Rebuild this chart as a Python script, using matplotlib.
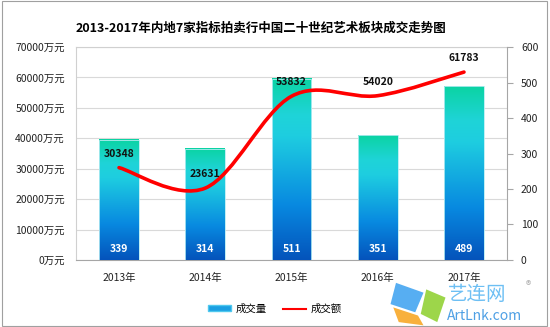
import numpy as np
import matplotlib
matplotlib.use("Agg")
import matplotlib.pyplot as plt
from matplotlib.path import Path
from matplotlib.patches import PathPatch, Rectangle, Polygon
from matplotlib.colors import LinearSegmentedColormap
from matplotlib.lines import Line2D

plt.rcParams['font.family'] = ['Noto Sans CJK SC', 'DejaVu Sans']

years = ["2013年", "2014年", "2015年", "2016年", "2017年"]
volume = [339, 314, 511, 351, 489]            # 成交量 (right axis)
turnover = [30348, 23631, 53832, 54020, 61783]  # 成交额 万元 (left axis)
left_ticks = [0, 10000, 20000, 30000, 40000, 50000, 60000, 70000]
right_ticks = [0, 100, 200, 300, 400, 500, 600]

fig = plt.figure(figsize=(5.5, 3.27), dpi=100)
ax = fig.add_axes([0.138, 0.205, 0.784, 0.651])
ax_bar = ax.twinx()
ax_line = ax.twinx()

x = np.arange(len(years))

# grid + left axis
ax.set_xlim(-0.5, len(years) - 0.5)
ax.set_ylim(0, 70000)
ax.set_yticks(left_ticks)
ax.set_yticklabels(["%d万元" % v for v in left_ticks], fontsize=7.5, color="#222222")
ax.tick_params(axis="y", length=0, pad=8)
ax.grid(axis="y", color="#d9d9d9", linewidth=0.8)
ax.set_axisbelow(True)
ax.set_xticks(x)
ax.set_xticklabels(years, fontsize=7.5, color="#222222")
ax.tick_params(axis="x", length=0, pad=9)
for s in ["left", "top"]:
    ax.spines[s].set_color("#d0d0d0")
ax.spines["right"].set_visible(False)
ax.spines["bottom"].set_color("#a6a6a6")

# bars on right axis
cmap = LinearSegmentedColormap.from_list("bar", [
    (0.0, "#0453bb"), (0.3, "#0889e0"), (0.68, "#1ecde0"),
    (0.8, "#1fd4d8"), (1.0, "#0bd3a3")])
grad = np.linspace(0, 1, 256).reshape(-1, 1)
bw = 0.46
bars = ax_bar.bar(x, volume, width=bw, color="none", edgecolor="#b5ecf3", linewidth=0.6, zorder=3)
for b, v in zip(bars, volume):
    ax_bar.imshow(grad, cmap=cmap, origin="lower", aspect="auto",
                  extent=(b.get_x(), b.get_x() + b.get_width(), 0, v), zorder=2)
    ax_bar.annotate(str(v), (b.get_x() + b.get_width() / 2, 0), xytext=(0, 8),
                    textcoords="offset points", ha="center", va="center",
                    color="white", fontsize=7.5, fontweight="bold", zorder=4)
ax_bar.set_xlim(-0.5, len(years) - 0.5)
ax_bar.set_ylim(0, 600)
ax_bar.set_yticks(right_ticks)
ax_bar.set_yticklabels([str(v) for v in right_ticks], fontsize=7.5, color="#222222")
ax_bar.tick_params(axis="y", direction="out", length=4, color="#a6a6a6", pad=6)
ax_bar.spines["right"].set_color("#a6a6a6")
for s in ["left", "top", "bottom"]:
    ax_bar.spines[s].set_visible(False)

# smoothed line (Excel style bezier) on left scale
ax_line.set_xlim(-0.5, len(years) - 0.5)
ax_line.set_ylim(0, 70000)
ax_line.set_yticks([])
for s in ax_line.spines.values():
    s.set_visible(False)
pts = list(zip(x.astype(float), turnover))
verts = [pts[0]]
codes = [Path.MOVETO]
for i in range(len(pts) - 1):
    p0 = pts[i - 1] if i > 0 else pts[i]
    p1, p2 = pts[i], pts[i + 1]
    p3 = pts[i + 2] if i + 2 < len(pts) else pts[i + 1]
    c1 = (p1[0] + (p2[0] - p0[0]) / 6, p1[1] + (p2[1] - p0[1]) / 6)
    c2 = (p2[0] - (p3[0] - p1[0]) / 6, p2[1] - (p3[1] - p1[1]) / 6)
    verts += [c1, c2, p2]
    codes += [Path.CURVE4] * 3
ax_line.add_patch(PathPatch(Path(verts, codes), facecolor="none", edgecolor="#ff0000",
                            linewidth=2.6, capstyle="round", zorder=5))
for xi, v in zip(x, turnover):
    ax_line.annotate(str(v), (xi, v), xytext=(0, 10), textcoords="offset points",
                     ha="center", va="center", fontsize=7.5, fontweight="bold",
                     color="#111111", zorder=6)

fig.suptitle("2013-2017年内地7家指标拍卖行中国二十世纪艺术板块成交走势图",
             x=0.474, y=0.935, fontsize=9, fontweight="bold")

# legend
leg_handles = [Rectangle((0, 0), 1, 1, facecolor="#1a9fe2", edgecolor="#4fc8ee"),
               Line2D([0], [0], color="#ff0000", linewidth=1.5)]
fig.legend(leg_handles, ["成交量", "成交额"], loc="center", bbox_to_anchor=(0.5, 0.055),
           ncol=2, frameon=False, fontsize=7.5, handlelength=2.2, handleheight=0.5,
           columnspacing=1.6, handletextpad=0.4)

# watermark
fig.patches.append(Polygon([[0.72, 0.135], [0.77, 0.105], [0.755, 0.045], [0.71, 0.07]],
                           closed=True, transform=fig.transFigure, facecolor="#3aa0f0", alpha=0.85))
fig.patches.append(Polygon([[0.775, 0.115], [0.81, 0.09], [0.795, 0.015], [0.765, 0.04]],
                           closed=True, transform=fig.transFigure, facecolor="#8ccf2a", alpha=0.85))
fig.patches.append(Polygon([[0.715, 0.06], [0.76, 0.035], [0.77, 0.005], [0.725, 0.015]],
                           closed=True, transform=fig.transFigure, facecolor="#f7a21b", alpha=0.85))
fig.text(0.815, 0.1, "艺连网", fontsize=14, color="#54b4f2", va="center", ha="left", alpha=0.85)
fig.text(0.955, 0.125, "®", fontsize=8, color="#b0b0b0", va="center")
fig.text(0.812, 0.035, "ArtLnk.com", fontsize=10, color="#2f8fe0", va="center", ha="left", alpha=0.85)

# chart border
fig.patches.append(Rectangle((0.004, 0.002), 0.99, 0.996, transform=fig.transFigure,
                             fill=False, edgecolor="#a0a0a0", linewidth=0.8))

fig.savefig("out.png", dpi=100)
